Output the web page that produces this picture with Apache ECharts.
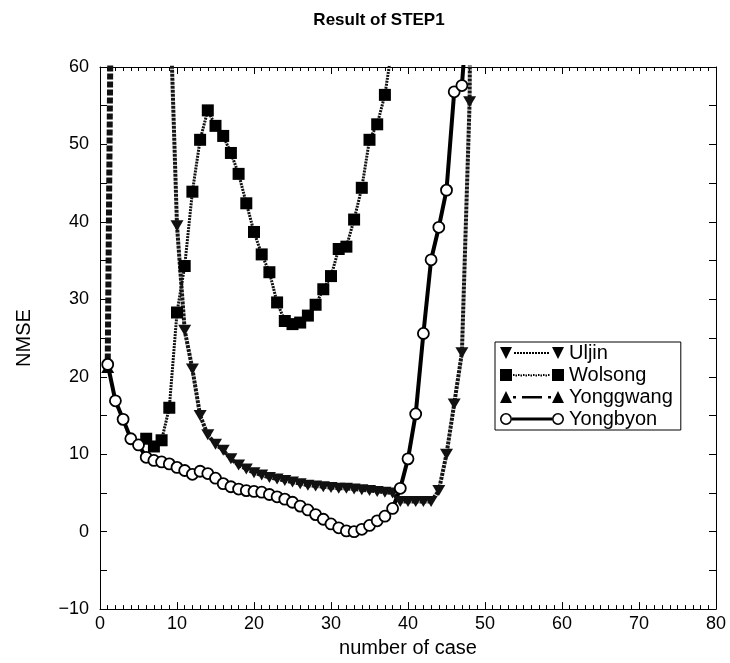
<!DOCTYPE html>
<html><head><meta charset="utf-8">
<script src="https://cdn.jsdelivr.net/npm/echarts@6/dist/echarts.min.js"></script>
<style>html,body{margin:0;padding:0;background:#fff}#c{width:730px;height:663px}</style>
</head><body><div id="c"></div>
<script>
// ---- data ----
const seriesNames = ['Uljin', 'Wolsong', 'Yonggwang', 'Yongbyon'];

const uljinX = [9,10,11,12,13,14,15,16,17,18,19,20,21,22,23,24,25,26,27,28,29,30,31,32,33,34,35,36,37,38,39,40,41,42,43,44,45,46,47,48,49];
const uljinY = [71,39.5,26,21,15,12.5,11.3,10.5,9.4,8.6,8.1,7.6,7.3,7.0,6.8,6.6,6.4,6.2,6.0,5.9,5.8,5.7,5.6,5.6,5.5,5.4,5.3,5.2,5.1,5.0,3.9,3.9,3.9,3.9,3.9,5.3,10,16.5,23.1,55.5,200];

const wolsongX = [6,7,8,9,10,11,12,13,14,15,16,17,18,19,20,21,22,23,24,25,26,27,28,29,30,31,32,33,34,35,36,37,38];
const wolsongY = [12.0,11.0,11.8,16.0,28.3,34.3,43.9,50.6,54.4,52.4,51.1,48.9,46.2,42.4,38.7,35.8,33.5,29.6,27.2,26.8,27.0,27.9,29.3,31.3,33.0,36.5,36.8,40.3,44.4,50.6,52.6,56.4,63];

const yonggwangX = [1,2];
const yonggwangY = [21.2,140];

const yongbyonX = [1,2,3,4,5,6,7,8,9,10,11,12,13,14,15,16,17,18,19,20,21,22,23,24,25,26,27,28,29,30,31,32,33,34,35,36,37,38,39,40,41,42,43,44,45,46,47,48];
const yongbyonY = [21.6,16.9,14.5,12.0,11.2,9.6,9.2,9.0,8.75,8.3,7.9,7.4,7.8,7.5,6.9,6.2,5.8,5.5,5.3,5.2,5.1,4.8,4.5,4.2,3.8,3.3,2.8,2.2,1.6,1.0,0.5,0.1,0.0,0.3,0.8,1.4,2.0,3.0,5.6,9.4,15.2,25.6,35.1,39.3,44.1,56.8,57.6,71];

const xTickMin = 0, xTickMax = 80, xTickStep = 10;
const yTickMin = -10, yTickMax = 60, yTickStep = 10;

// ---- legend icons (marker - line - marker), drawn in a 64x12 box ----
const iconUljin = 'path://M0,0L12,0L6,12Z M52,0L64,0L58,12Z' +
  'M14,5h2v2h-2Z M17,5h2v2h-2Z M20,5h2v2h-2Z M23,5h2v2h-2Z M26,5h2v2h-2Z M29,5h2v2h-2Z' +
  'M32,5h2v2h-2Z M35,5h2v2h-2Z M38,5h2v2h-2Z M41,5h2v2h-2Z M44,5h2v2h-2Z M47,5h2v2h-2Z';
const iconWolsong = 'path://M0,0h12v12h-12Z M52,0h12v12h-12Z' +
  'M13,5h1.5v2h-1.5Z M15.5,5.5h1.5v2h-1.5Z M18,5h1.5v2h-1.5Z M20.5,5.5h1.5v2h-1.5Z M23,5h1.5v2h-1.5Z' +
  'M25.5,5.5h1.5v2h-1.5Z M28,5h1.5v2h-1.5Z M30.5,5.5h1.5v2h-1.5Z M33,5h1.5v2h-1.5Z M35.5,5.5h1.5v2h-1.5Z' +
  'M38,5h1.5v2h-1.5Z M40.5,5.5h1.5v2h-1.5Z M43,5h1.5v2h-1.5Z M45.5,5.5h1.5v2h-1.5Z M48,5h1.5v2h-1.5Z';
const iconYonggwang = 'path://M0,12L6,0L12,12Z M52,12L58,0L64,12Z' +
  'M13,5h3v2.5h-3Z M22,5h20v2.5h-20Z M48,5h3v2.5h-3Z';
const iconYongbyon = 'path://M0,6A6,6,0,1,0,12,6A6,6,0,1,0,0,6Z M1.6,6A4.4,4.4,0,1,1,10.4,6A4.4,4.4,0,1,1,1.6,6Z' +
  'M52,6A6,6,0,1,0,64,6A6,6,0,1,0,52,6Z M53.6,6A4.4,4.4,0,1,1,62.4,6A4.4,4.4,0,1,1,53.6,6Z' +
  'M12,4.6h40v2.8h-40Z';

// ---- chart ----
const font = '"Liberation Sans", Arial, Helvetica, sans-serif';
function pairs(xs, ys) { return xs.map((x, i) => [x, ys[i]]); }
const chart = echarts.init(document.getElementById('c'), null, { renderer: 'canvas' });

function xAx(pos, labels) {
  return {
    type: 'value', position: pos, min: xTickMin, max: xTickMax, interval: xTickStep,
    axisLine: { show: true, onZero: false, lineStyle: { color: '#000', width: 1 } },
    axisTick: { show: true, inside: true, length: 7, lineStyle: { color: '#000', width: 1 } },
    minorTick: { show: true, splitNumber: 10, length: 4, lineStyle: { color: '#000', width: 1 } },
    splitLine: { show: false },
    axisLabel: { show: labels, color: '#000', fontSize: 18, fontFamily: font, margin: 6 },
    name: labels ? 'number of case' : '', nameLocation: 'middle', nameGap: 28,
    nameTextStyle: { color: '#000', fontSize: 20, fontFamily: font }
  };
}
function yAx(pos, labels) {
  return {
    type: 'value', position: pos, min: yTickMin, max: yTickMax, interval: yTickStep,
    axisLine: { show: true, onZero: false, lineStyle: { color: '#000', width: 1 } },
    axisTick: { show: true, inside: true, length: 7, lineStyle: { color: '#000', width: 1 } },
    minorTick: { show: true, splitNumber: 2, length: 7, lineStyle: { color: '#000', width: 1 } },
    splitLine: { show: false },
    axisLabel: { show: labels, color: '#000', fontSize: 18, fontFamily: font, margin: 11,
      formatter: v => String(v).replace('-', '\u2212') },
    name: labels ? 'NMSE' : '', nameLocation: 'middle', nameGap: 66,
    nameTextStyle: { color: '#000', fontSize: 20, fontFamily: font }
  };
}

const option = {
  animation: false,
  backgroundColor: '#fff',
  title: {
    text: 'Result of STEP1', left: 374, top: 7, textAlign: 'center',
    textStyle: { fontFamily: font, fontSize: 17, fontWeight: 'bold', color: '#000' }
  },
  grid: { left: 100, right: 14, top: 67, bottom: 53 },
  legend: {
    orient: 'vertical', left: 495, top: 342,
    itemWidth: 64, itemHeight: 12, itemGap: 2,
    padding: [1, 8, 1, 5],
    borderColor: '#000', borderWidth: 1, backgroundColor: '#fff',
    itemStyle: { color: '#000', borderWidth: 0 },
    textStyle: { fontSize: 20, fontFamily: font, color: '#000' },
    data: [
      { name: seriesNames[0], icon: iconUljin },
      { name: seriesNames[1], icon: iconWolsong },
      { name: seriesNames[2], icon: iconYonggwang },
      { name: seriesNames[3], icon: iconYongbyon }
    ]
  },
  xAxis: [xAx('bottom', true), xAx('top', false)],
  yAxis: [yAx('left', true), yAx('right', false)],
  series: [
    {
      name: seriesNames[0], type: 'line', data: pairs(uljinX, uljinY),
      symbol: 'triangle', symbolRotate: 180, symbolSize: [13, 11], showAllSymbol: true,
      itemStyle: { color: '#111' },
      lineStyle: { color: '#151515', width: 4, type: [3, 1] }
    },
    {
      name: seriesNames[1], type: 'line', data: pairs(wolsongX, wolsongY),
      symbol: 'rect', symbolSize: 12, showAllSymbol: true,
      itemStyle: { color: '#000' },
      lineStyle: { color: '#111', width: 3, type: [2, 1] }
    },
    {
      name: seriesNames[2], type: 'line', data: pairs(yonggwangX, yonggwangY),
      symbol: 'triangle', symbolSize: [13, 11], showAllSymbol: true,
      itemStyle: { color: '#000' },
      lineStyle: { color: '#111', width: 6, type: [6, 2] }
    },
    {
      name: seriesNames[3], type: 'line', data: pairs(yongbyonX, yongbyonY),
      symbol: 'circle', symbolSize: 11, showAllSymbol: true,
      itemStyle: { color: '#fff', borderColor: '#000', borderWidth: 1.8 },
      lineStyle: { color: '#000', width: 4 }
    }
  ]
};
chart.setOption(option);
</script>
</body></html>
